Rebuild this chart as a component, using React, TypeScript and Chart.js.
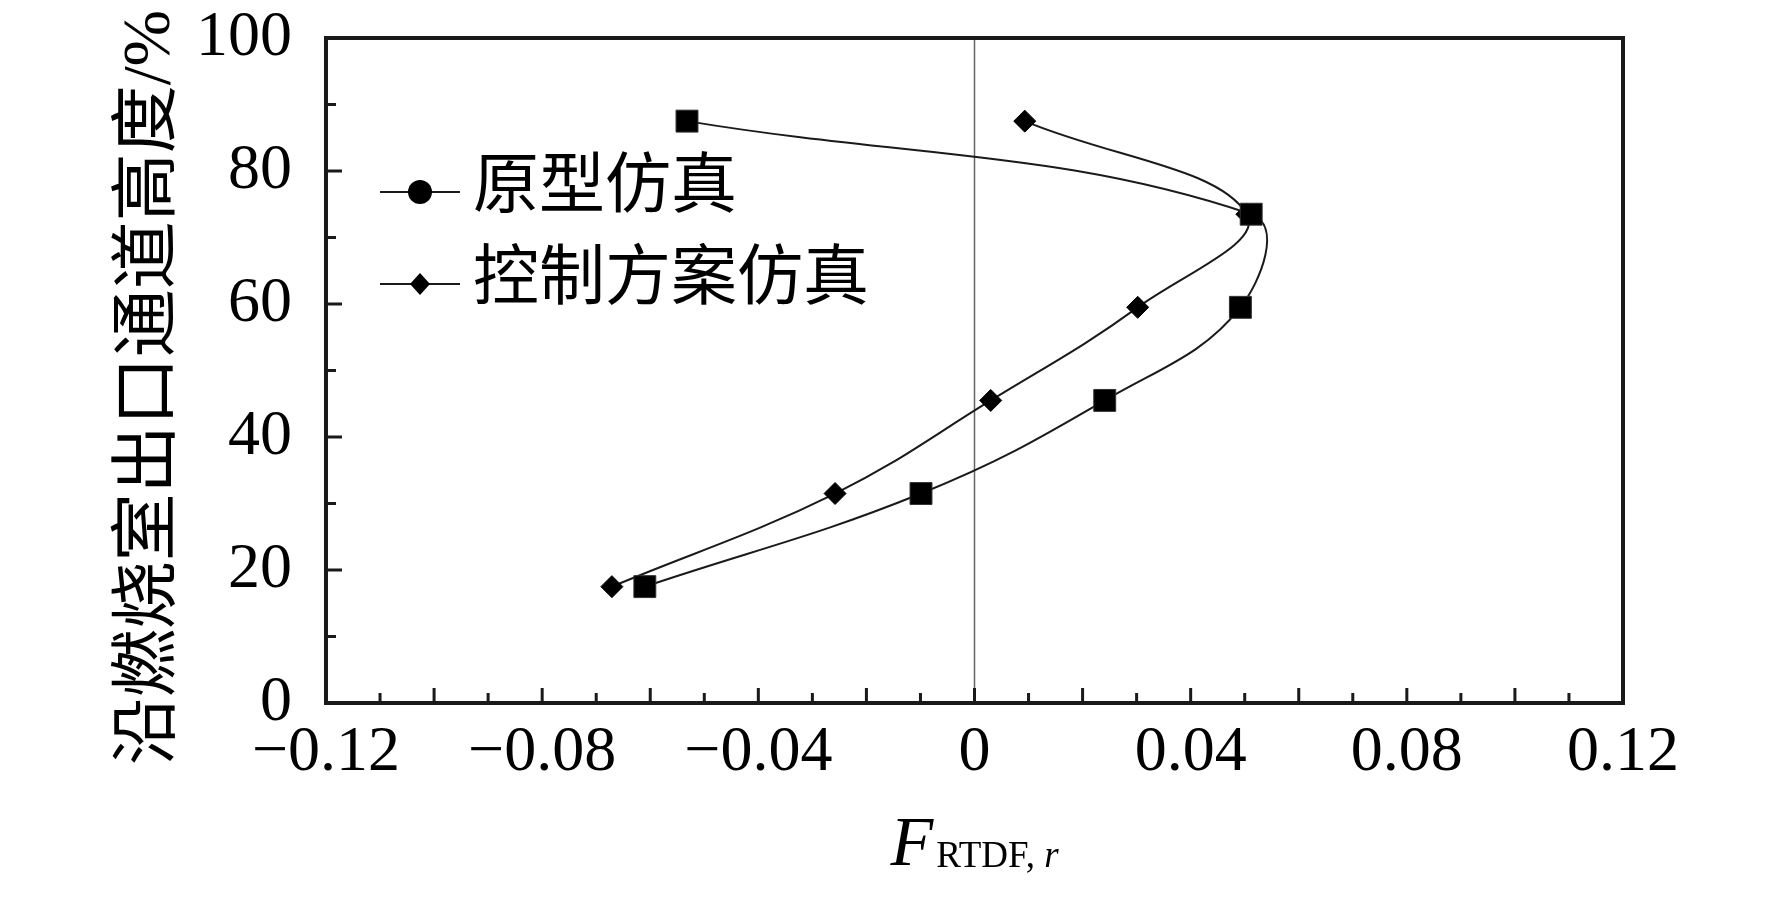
import { Chart, registerables } from "chart.js";
import { useEffect, useRef } from "react";

Chart.register(...registerables);

// heights along the combustor outlet channel (%)
const heights = [17.5, 31.5, 45.5, 59.5, 73.5, 87.5];
// F_RTDF,r values
const prototypeValues = [-0.061, -0.0099, 0.0241, 0.0492, 0.0512, -0.0532];
const controlValues = [-0.0671, -0.0258, 0.003, 0.0302, 0.0504, 0.0093];

const seriesNames = ["原型仿真", "控制方案仿真"];
// two trailing spaces nudge the rotated title a little lower, as in the original
const yTitle = "沿燃烧室出口通道高度/%  ";

const SERIF = "'Liberation Serif', 'Times New Roman', 'Noto Sans CJK SC', serif";
const INK = "#1a1a1a";

function fmt(v: number) {
  const r = Math.round(v * 100) / 100;
  if (r === 0) return "0";
  const s = Math.abs(r).toFixed(2);
  return r < 0 ? "\u2212" + s : s;
}

// box, inward ticks, zero line, legend and the x title with its subscript
const decorations = {
  id: "decorations",
  beforeDatasetsDraw(chart: any) {
    const { ctx, chartArea } = chart;
    const x0 = chart.scales.x.getPixelForValue(0);
    ctx.save();
    ctx.strokeStyle = "#666";
    ctx.lineWidth = 1.5;
    ctx.beginPath();
    ctx.moveTo(x0, chartArea.top);
    ctx.lineTo(x0, chartArea.bottom);
    ctx.stroke();
    ctx.restore();
  },
  afterDraw(chart: any) {
    const { ctx, chartArea } = chart;
    const { left, right, top, bottom } = chartArea;
    const xs = chart.scales.x;
    const ys = chart.scales.y;
    ctx.save();
    ctx.strokeStyle = INK;

    // minor / major ticks pointing inward
    ctx.lineWidth = 3;
    ctx.beginPath();
    for (let i = -11; i <= 11; i++) {
      const px = xs.getPixelForValue(i / 100);
      const len = i % 2 === 0 ? 15 : 10;
      ctx.moveTo(px, bottom);
      ctx.lineTo(px, bottom - len);
    }
    for (let v = 10; v <= 90; v += 10) {
      const py = ys.getPixelForValue(v);
      const len = v % 20 === 0 ? 16 : 10;
      ctx.moveTo(left, py);
      ctx.lineTo(left + len, py);
    }
    ctx.stroke();

    // frame
    ctx.lineWidth = 4;
    ctx.strokeRect(left, top, right - left, bottom - top);

    // legend
    const lx = left + 54;
    const rows = [top + 154, top + 246];
    ctx.lineWidth = 2;
    ctx.fillStyle = "#000";
    rows.forEach((ly, i) => {
      ctx.beginPath();
      ctx.moveTo(lx, ly);
      ctx.lineTo(lx + 80, ly);
      ctx.stroke();
      const cx = lx + 40;
      ctx.beginPath();
      if (i === 0) {
        ctx.arc(cx, ly, 12, 0, Math.PI * 2);
      } else {
        ctx.moveTo(cx, ly - 11);
        ctx.lineTo(cx + 10, ly);
        ctx.lineTo(cx, ly + 11);
        ctx.lineTo(cx - 10, ly);
        ctx.closePath();
      }
      ctx.fill();
      ctx.font = `66px ${SERIF}`;
      ctx.textBaseline = "middle";
      ctx.textAlign = "left";
      ctx.fillText(seriesNames[i], lx + 93, ly - 2);
    });

    // x title: F with subscript RTDF, r
    const big = `italic 70px ${SERIF}`;
    const small = `37px ${SERIF}`;
    const smallIt = `italic 37px ${SERIF}`;
    ctx.font = big;
    const wF = ctx.measureText("F").width;
    ctx.font = small;
    const wSub = ctx.measureText("RTDF, ").width;
    ctx.font = smallIt;
    const wR = ctx.measureText("r").width;
    const total = wF + 3 + wSub + wR;
    let tx = (left + right) / 2 - total / 2;
    const base = bottom + 162;
    ctx.textBaseline = "alphabetic";
    ctx.font = big;
    ctx.fillText("F", tx, base);
    tx += wF + 3;
    ctx.font = small;
    ctx.fillText("RTDF, ", tx, base + 2);
    tx += wSub;
    ctx.font = smallIt;
    ctx.fillText("r", tx, base + 2);
    ctx.restore();
  },
};

export default function App() {
  const canvasRef = useRef<HTMLCanvasElement>(null);

  useEffect(() => {
    if (!canvasRef.current) return;
    const ctx = canvasRef.current.getContext("2d");
    if (!ctx) return;

    const chart = new Chart(ctx, {
      type: "scatter",
      data: {
        datasets: [
          {
            label: seriesNames[0],
            data: heights.map((h, i) => ({ x: prototypeValues[i], y: h })),
            showLine: true,
            tension: 0.4,
            borderColor: INK,
            borderWidth: 2,
            pointStyle: "rect",
            pointRadius: 15.5,
            pointBackgroundColor: "#000",
            pointBorderColor: "#333",
            pointBorderWidth: 1,
          },
          {
            label: seriesNames[1],
            data: heights.map((h, i) => ({ x: controlValues[i], y: h })),
            showLine: true,
            tension: 0.4,
            borderColor: INK,
            borderWidth: 2,
            pointStyle: "rectRot",
            pointRadius: 11,
            pointBackgroundColor: "#000",
            pointBorderColor: "#000",
            pointBorderWidth: 1,
          },
        ],
      },
      options: {
        animation: false,
        responsive: true,
        maintainAspectRatio: false,
        events: [],
        layout: { padding: { top: 0, right: 149, left: 0, bottom: 0 } },
        plugins: {
          legend: { display: false },
          tooltip: { enabled: false },
        },
        scales: {
          x: {
            type: "linear",
            min: -0.12,
            max: 0.12,
            grid: { display: false, drawTicks: false },
            border: { display: false },
            ticks: {
              stepSize: 0.04,
              autoSkip: false,
              maxRotation: 0,
              padding: 12,
              color: "#000",
              font: { size: 64, family: SERIF },
              callback: (v: any) => fmt(Number(v)),
            },
            afterFit: (s: any) => {
              s.height = 195;
            },
          },
          y: {
            type: "linear",
            min: 0,
            max: 100,
            grid: { display: false, drawTicks: false },
            border: { display: false },
            ticks: {
              stepSize: 20,
              padding: 34,
              color: "#000",
              font: { size: 64, family: SERIF },
            },
            title: {
              display: true,
              text: yTitle,
              color: "#000",
              font: { size: 68, family: SERIF },
              padding: { top: 110, bottom: 0 },
            },
            afterFit: (s: any) => {
              s.width = 326;
              s.paddingTop = 38;
            },
          },
        },
      },
      plugins: [decorations],
    });

    return () => chart.destroy();
  }, []);

  return (
    <div style={{ position: "absolute", left: 0, top: 0, width: 1772, height: 898, background: "#fff" }}>
      <canvas ref={canvasRef} />
    </div>
  );
}
